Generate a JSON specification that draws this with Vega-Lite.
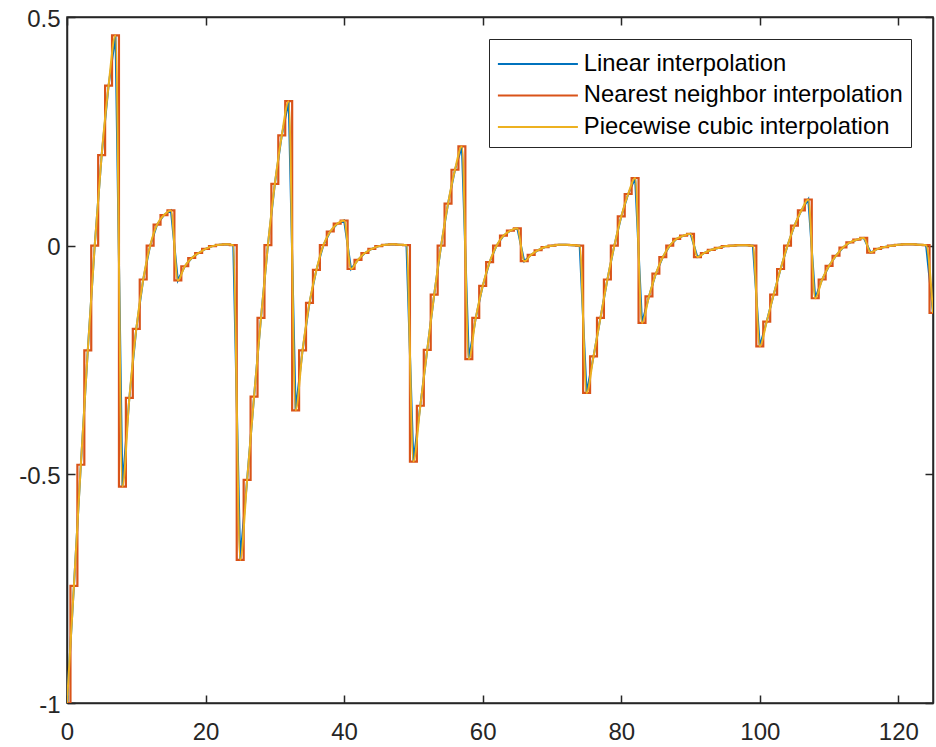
{
  "$schema": "https://vega.github.io/schema/vega-lite/v6.json",
  "autosize": {"type": "none"},
  "padding": {"left": 67, "top": 17, "right": 3, "bottom": 44},
  "width": 866,
  "height": 686,
  "background": "white",
  "config": {
    "view": {"stroke": "#262626", "strokeWidth": 1.5},
    "font": "Liberation Sans",
    "axis": {
      "grid": false,
      "title": null,
      "domainColor": "#262626",
      "domainWidth": 1.5,
      "tickColor": "#262626",
      "tickWidth": 1.5,
      "tickSize": -8,
      "labelFont": "Liberation Sans",
      "labelFontSize": 24,
      "labelColor": "#262626",
      "labelFlush": false
    }
  },
  "data": {
    "values": [
      {"x": 0, "y": -1}, {"x": 1, "y": -0.744}, {"x": 2, "y": -0.479}, {"x": 3, "y": -0.229},
      {"x": 4, "y": 0}, {"x": 5, "y": 0.198}, {"x": 6, "y": 0.35}, {"x": 7, "y": 0.46},
      {"x": 8, "y": -0.527}, {"x": 9, "y": -0.333}, {"x": 10, "y": -0.182}, {"x": 11, "y": -0.074},
      {"x": 12, "y": 0}, {"x": 13, "y": 0.046}, {"x": 14, "y": 0.067}, {"x": 15, "y": 0.077},
      {"x": 16, "y": -0.076}, {"x": 17, "y": -0.045}, {"x": 18, "y": -0.027}, {"x": 19, "y": -0.016},
      {"x": 20, "y": -0.007}, {"x": 21, "y": -0.001}, {"x": 22, "y": 0.002}, {"x": 23, "y": 0.003},
      {"x": 24, "y": 0.001}, {"x": 25, "y": -0.687}, {"x": 26, "y": -0.512}, {"x": 27, "y": -0.33},
      {"x": 28, "y": -0.158}, {"x": 29, "y": 0.001}, {"x": 30, "y": 0.135}, {"x": 31, "y": 0.241},
      {"x": 32, "y": 0.316}, {"x": 33, "y": -0.36}, {"x": 34, "y": -0.229}, {"x": 35, "y": -0.125},
      {"x": 36, "y": -0.053}, {"x": 37, "y": 0.001}, {"x": 38, "y": 0.031}, {"x": 39, "y": 0.048},
      {"x": 40, "y": 0.055}, {"x": 41, "y": -0.051}, {"x": 42, "y": -0.031}, {"x": 43, "y": -0.016},
      {"x": 44, "y": -0.007}, {"x": 45, "y": -0.001}, {"x": 46, "y": 0.002}, {"x": 47, "y": 0.003},
      {"x": 48, "y": 0.002}, {"x": 49, "y": 0.001}, {"x": 50, "y": -0.472}, {"x": 51, "y": -0.35},
      {"x": 52, "y": -0.228}, {"x": 53, "y": -0.107}, {"x": 54, "y": 0}, {"x": 55, "y": 0.092},
      {"x": 56, "y": 0.166}, {"x": 57, "y": 0.217}, {"x": 58, "y": -0.248}, {"x": 59, "y": -0.158},
      {"x": 60, "y": -0.088}, {"x": 61, "y": -0.036}, {"x": 62, "y": 0}, {"x": 63, "y": 0.022},
      {"x": 64, "y": 0.033}, {"x": 65, "y": 0.038}, {"x": 66, "y": -0.034}, {"x": 67, "y": -0.02},
      {"x": 68, "y": -0.01}, {"x": 69, "y": -0.003}, {"x": 70, "y": 0}, {"x": 71, "y": 0.002},
      {"x": 72, "y": 0.002}, {"x": 73, "y": 0.001}, {"x": 74, "y": 0}, {"x": 75, "y": -0.322},
      {"x": 76, "y": -0.242}, {"x": 77, "y": -0.158}, {"x": 78, "y": -0.074}, {"x": 79, "y": 0},
      {"x": 80, "y": 0.064}, {"x": 81, "y": 0.113}, {"x": 82, "y": 0.148}, {"x": 83, "y": -0.169},
      {"x": 84, "y": -0.111}, {"x": 85, "y": -0.061}, {"x": 86, "y": -0.025}, {"x": 87, "y": 0},
      {"x": 88, "y": 0.015}, {"x": 89, "y": 0.022}, {"x": 90, "y": 0.026}, {"x": 91, "y": -0.025},
      {"x": 92, "y": -0.016}, {"x": 93, "y": -0.009}, {"x": 94, "y": -0.005}, {"x": 95, "y": -0.001},
      {"x": 96, "y": 0}, {"x": 97, "y": 0.001}, {"x": 98, "y": 0.001}, {"x": 99, "y": 0},
      {"x": 100, "y": -0.22}, {"x": 101, "y": -0.166}, {"x": 102, "y": -0.107}, {"x": 103, "y": -0.051},
      {"x": 104, "y": 0}, {"x": 105, "y": 0.044}, {"x": 106, "y": 0.077}, {"x": 107, "y": 0.101},
      {"x": 108, "y": -0.115}, {"x": 109, "y": -0.074}, {"x": 110, "y": -0.044}, {"x": 111, "y": -0.022},
      {"x": 112, "y": -0.004}, {"x": 113, "y": 0.007}, {"x": 114, "y": 0.013}, {"x": 115, "y": 0.017},
      {"x": 116, "y": -0.015}, {"x": 117, "y": -0.007}, {"x": 118, "y": -0.003}, {"x": 119, "y": 0},
      {"x": 120, "y": 0.002}, {"x": 121, "y": 0.003}, {"x": 122, "y": 0.003}, {"x": 123, "y": 0.002},
      {"x": 124, "y": 0.001}, {"x": 125, "y": -0.147}
    ]
  },
  "resolve": {"axis": {"x": "independent", "y": "independent"}},
  "layer": [
    {
      "mark": {"type": "line", "interpolate": "linear", "strokeWidth": 2, "clip": true},
      "encoding": {
        "x": {"field": "x", "type": "quantitative", "scale": {"domain": [0, 125], "nice": false, "zero": false},
              "axis": {"orient": "bottom", "values": [0, 20, 40, 60, 80, 100, 120], "labelExpr": "'' + datum.value", "labelPadding": 25}},
        "y": {"field": "y", "type": "quantitative", "scale": {"domain": [-1, 0.5], "nice": false, "zero": false},
              "axis": {"orient": "left", "values": [-1, -0.5, 0, 0.5], "labelExpr": "'' + datum.value", "labelPadding": 15, "labelOffset": 2}},
        "color": {
          "datum": "Linear interpolation",
          "type": "nominal",
          "scale": {"domain": ["Linear interpolation", "Nearest neighbor interpolation", "Piecewise cubic interpolation"],
                    "range": ["#0072BD", "#D95319", "#EDB120"]},
          "legend": {
            "title": " ",
            "titleFontSize": 5,
            "titlePadding": 0,
            "orient": "top-right",
            "offset": 22,
            "symbolType": "M-8,0H8",
            "symbolSize": 100,
            "symbolOffset": 29,
            "symbolStrokeWidth": 2,
            "labelFontSize": 23.8,
            "labelFont": "Liberation Sans",
            "labelColor": "#000000",
            "labelLimit": 600,
            "labelOffset": 34,
            "strokeColor": "#262626",
            "fillColor": "white",
            "padding": 8,
            "rowPadding": 6.5
          }
        }
      }
    },
    {
      "mark": {"type": "line", "interpolate": "step", "strokeWidth": 2.2, "clip": true},
      "encoding": {
        "x": {"field": "x", "type": "quantitative",
              "axis": {"orient": "top", "values": [0, 20, 40, 60, 80, 100, 120], "labels": false}},
        "y": {"field": "y", "type": "quantitative",
              "axis": {"orient": "right", "values": [-1, -0.5, 0, 0.5], "labels": false}},
        "color": {"datum": "Nearest neighbor interpolation", "type": "nominal"}
      }
    },
    {
      "mark": {"type": "line", "interpolate": "monotone", "strokeWidth": 2, "clip": true},
      "encoding": {
        "x": {"field": "x", "type": "quantitative", "axis": null},
        "y": {"field": "y", "type": "quantitative", "axis": null},
        "color": {"datum": "Piecewise cubic interpolation", "type": "nominal"}
      }
    }
  ]
}
